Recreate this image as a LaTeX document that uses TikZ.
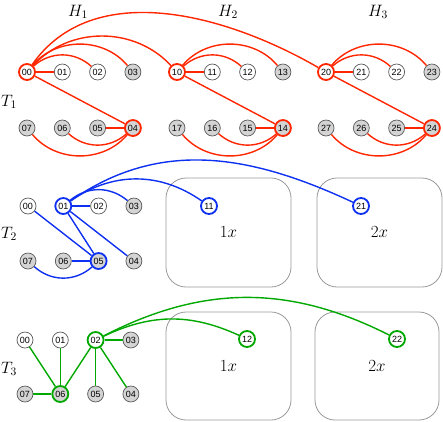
\RequirePackage{fix-cm}
\documentclass[tikz,border=0pt]{standalone}
\usepackage{fontspec}
\newfontfamily\numfont{Liberation Sans}
\usetikzlibrary{shapes.geometric, arrows}
\definecolor{hotred}{RGB}{255,38,0}
\definecolor{hotblue}{RGB}{14,48,240}
\definecolor{hotgreen}{RGB}{0,168,0}
\tikzstyle{vertex} = [
    circle,
    minimum size=16pt,
    inner sep=0pt,
    draw=black!65,
    fill=white,
    line width=0.7pt,
    font=\numfont\fontsize{9}{9}\selectfont
]
\tikzstyle{shaded} = [vertex, fill=black!17]
\tikzstyle{redhub} = [draw=hotred, line width=1.8pt]
\tikzstyle{bluehub} = [draw=hotblue, line width=1.8pt]
\tikzstyle{greenhub} = [draw=hotgreen, line width=1.8pt]
\tikzstyle{cube} = [
    rectangle,
    rounded corners=20pt,
    minimum width=125pt,
    minimum height=109pt,
    draw=black!40,
    line width=0.8pt,
    font=\fontsize{17}{17}\selectfont
]
\tikzstyle{tag} = [font=\fontsize{16.5}{16.5}\selectfont]
\tikzstyle{redline} = [hotred, line width=1.4pt]
\tikzstyle{blueline} = [hotblue, line width=1.4pt]
\tikzstyle{greenline} = [hotgreen, line width=1.4pt]

\begin{document}
\begin{tikzpicture}[x=1pt, y=1pt, node distance=35.3pt]

\useasboundingbox (0,0) rectangle (443,-421);

\node (h1) [tag] at (78,-12) {$H_1$};
\node (h2) [tag] at (228,-12) {$H_2$};
\node (h3) [tag] at (378,-12) {$H_3$};
\node (t1) [tag] at (9,-102) {$T_1$};
\node (t2) [tag] at (9,-234) {$T_2$};
\node (t3) [tag] at (9,-369) {$T_3$};

\node (b1box) [cube] at (228.5,-232.5) {$1x$};
\node (b2box) [cube] at (379.5,-232.5) {$2x$};
\node (c1box) [cube, minimum height=108pt] at (228.5,-366) {$1x$};
\node (c2box) [cube, minimum width=124pt, minimum height=108pt] at (377,-366) {$2x$};

\node (a00) [vertex, redhub] at (27,-72) {00};
\node (a01) [vertex, right of=a00] {01};
\node (a02) [vertex, right of=a01] {02};
\node (a03) [shaded, right of=a02] {03};
\node (a07) [shaded] at (27,-128) {07};
\node (a06) [shaded, right of=a07] {06};
\node (a05) [shaded, right of=a06] {05};
\node (a04) [shaded, redhub, right of=a05] {04};

\node (a10) [vertex, redhub] at (177,-72) {10};
\node (a11) [vertex, right of=a10] {11};
\node (a12) [vertex, right of=a11] {12};
\node (a13) [shaded, right of=a12] {13};
\node (a17) [shaded] at (177,-128) {17};
\node (a16) [shaded, right of=a17] {16};
\node (a15) [shaded, right of=a16] {15};
\node (a14) [shaded, redhub, right of=a15] {14};

\node (a20) [vertex, redhub] at (326,-72) {20};
\node (a21) [vertex, right of=a20] {21};
\node (a22) [vertex, right of=a21] {22};
\node (a23) [shaded, right of=a22] {23};
\node (a27) [shaded] at (326,-128) {27};
\node (a26) [shaded, right of=a27] {26};
\node (a25) [shaded, right of=a26] {25};
\node (a24) [shaded, redhub, right of=a25] {24};

\node (b00) [vertex] at (28,-206) {00};
\node (b01) [vertex, bluehub, right of=b00] {01};
\node (b02) [vertex, right of=b01] {02};
\node (b03) [shaded, right of=b02] {03};
\node (b07) [shaded] at (28,-261) {07};
\node (b06) [shaded, right of=b07] {06};
\node (b05) [shaded, bluehub, right of=b06] {05};
\node (b04) [shaded, right of=b05] {04};
\node (b11) [vertex, bluehub] at (209,-206) {11};
\node (b21) [vertex, bluehub] at (361,-206) {21};

\node (c00) [vertex] at (25,-340) {00};
\node (c01) [vertex, right of=c00] {01};
\node (c02) [vertex, greenhub, right of=c01] {02};
\node (c03) [shaded, right of=c02] {03};
\node (c07) [shaded] at (25,-394) {07};
\node (c06) [shaded, greenhub, right of=c07] {06};
\node (c05) [shaded, right of=c06] {05};
\node (c04) [shaded, right of=c05] {04};
\node (c12) [vertex, greenhub] at (247,-339) {12};
\node (c22) [vertex, greenhub] at (397,-339) {22};

\draw [redline] (a00) -- (a01);
\draw [redline] (a00) to[bend left=42] (a02);
\draw [redline] (a00) to[bend left=50] (a03);
\draw [redline] (a00) to[bend left=47] (a10);
\draw [redline] (a00) to[out=55, in=150, looseness=0.95] (a20);
\draw [redline] (a00) -- (a04);
\draw [redline] (a04) -- (a05);
\draw [redline] (a04) to[bend left=42] (a06);
\draw [redline] (a04) to[bend left=50] (a07);

\draw [redline] (a10) -- (a11);
\draw [redline] (a10) to[bend left=42] (a12);
\draw [redline] (a10) to[bend left=50] (a13);
\draw [redline] (a10) -- (a14);
\draw [redline] (a14) -- (a15);
\draw [redline] (a14) to[bend left=42] (a16);
\draw [redline] (a14) to[bend left=50] (a17);

\draw [redline] (a20) -- (a21);
\draw [redline] (a20) to[bend left=42] (a22);
\draw [redline] (a20) to[bend left=50] (a23);
\draw [redline] (a20) -- (a24);
\draw [redline] (a24) -- (a25);
\draw [redline] (a24) to[bend left=42] (a26);
\draw [redline] (a24) to[bend left=50] (a27);

\draw [blueline] (b01) -- (b02);
\draw [blueline] (b01) to[bend left=40] (b03);
\draw [blueline] (b01) -- (b04);
\draw [blueline] (b01) -- (b05);
\draw [blueline] (b00) -- (b05);
\draw [blueline] (b05) -- (b06);
\draw [blueline] (b05) to[bend left=42] (b07);
\draw [blueline] (b01) to[bend left=35] (b11);
\draw [blueline] (b01) to[out=35, in=155] (b21);

\draw [greenline] (c00) -- (c06);
\draw [greenline] (c01) -- (c06);
\draw [greenline] (c02) -- (c06);
\draw [greenline] (c06) -- (c07);
\draw [greenline] (c02) -- (c03);
\draw [greenline] (c02) -- (c05);
\draw [greenline] (c02) -- (c04);
\draw [greenline] (c02) to[bend left=25] (c12);
\draw [greenline] (c02) to[bend left=27] (c22);

\end{tikzpicture}
\end{document}
